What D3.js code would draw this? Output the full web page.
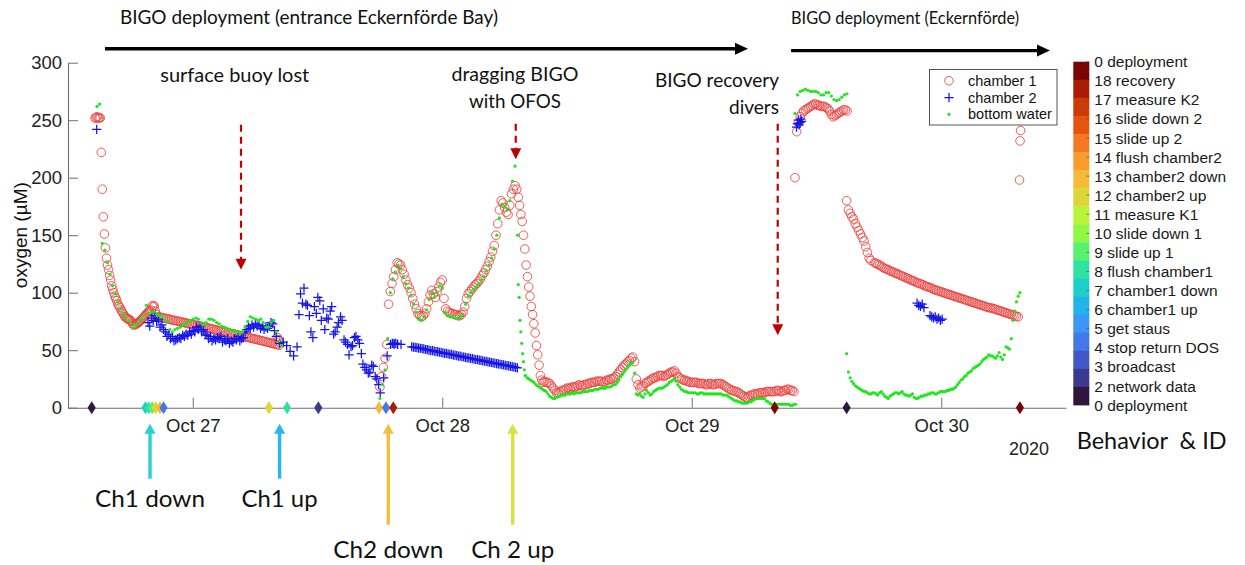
<!DOCTYPE html>
<html>
<head>
<meta charset="utf-8">
<title>BIGO oxygen record, Eckernförde Bay, October 2020</title>
<script src="https://cdn.jsdelivr.net/npm/d3@7"></script>
<style>
  html, body { margin: 0; padding: 0; background: #fff; }
  svg { display: block; }
  .sans { font-family: "Liberation Sans", Arial, Helvetica, sans-serif; }
  .note { font-family: Lato, "Open Sans", sans-serif; }
</style>
</head>
<body>
<svg id="chart" width="1245" height="565"></svg>
<script>
// Time base: every run starts at an hour counted from 2020-10-26 00:00 UTC,
// followed by its sampling step in minutes and the oxygen readings (µM).
const T0 = Date.UTC(2020, 9, 26);
const at = h => new Date(T0 + h * 3600e3);

// ---------- chamber 1 ----------
const ch1Start = [252,252,253,252,252,252,222,190,166,151,139,130,124,120,115,111,106,103,100,97,95,93,90,88.5,87,85,83.5,82,80.5,79,78,77.5,77,76.5,76,75,73,72,72,72.5,73,73.5,74,75,76,77,78,79,80,81,82,83,84,84,85,88,89,88,84,81];
const ch1Drift = [79,78.8,78.5,78,77.8,77.5,77,76.8,76.4,76,75.8,75.3,75,74.8,74.4,74,73.7,73.3,73,72.6,72.3,72,71.6,71.3,71,70.6,70.2,70,69.6,69.2,68.9,68.5,68.2,67.8,67.4,67.1,66.8,66.4,66,65.7,65.3,65,64.6,64.3,64,63.6,63.2,62.9,62.5,62.2,61.8,61.4,61.1,60.7,60.4,60,59.7,59.3,58.9,58.5,58.1,57.8,57.4,57,56.7,56.3,55.9,55.5,55.1,54.7,54.3];
const ch1Tail = [61,59,57];
const ch1Rise = [18,27,35,43,55,90,101,108,114,120,126,125];
const ch1Second = [124,120,116,111,107,104,100,95,90,86,82,80,79,80,82,86,92,98,102,99,96,101,105,109,111,95,86,84,83,82,82,81,81,80,80,81,83,88,95,99,101,103,105,107,108,110,112,115,117,120,123,127,131,136,141,150,160,172,180,178,174,170,168,176,186,190,193,190];
const ch1Drop = [183,176,168,162,150,138,124,114,105,97,88,81,73,65,54,46,37,28,24,22,23];
const ch1Low = [22,22,21,19,17,15,13,13,14,15,15,16,17,17,17,18,18,18,19,20,19,19,20,20,21,21,22,22,22,23,23,23,23,22,23,24,24,25,25,26,27,29,31,33,35,37,38,40,41,43,44,40,25,20,17,18,19,21,22,23,24,25,26,26,27,28,28,28,27,28,29,30,31,31,32,30,27,26,25,24,24,23,23,22,22,22,22,22,21,21,21,21,20,20,21,21,20,20,21,21,21,21,20,19,18,17,16,15,15,14,14,13,12,11,10,9,9,10,11,11,12,12,12,13,13,13,13,14,14,14,14,14,14,15,15,14,14,15,15,16,16,15,15,14];
const ch1Redeploy = [200,240,248,253,256,258,259,260,261,262,263,264,264,263,263,262,262,262,261,260,258,255,253,254,255,256,257,258,259,259,258];
const ch1Decay = [180,172,169,166,164,160,157,154,151,148,145,140,135,130,128];
const ch1Incubation = [126,125.5,124.5,124,123,122,121,120.5,120,119,118.5,118,117,116.5,116,115,114.5,114,113,112.5,112,111,110.5,110,109,108.5,108,107.5,107,106,105.5,105,104.5,104,103,102.5,102,101.5,101,100.5,100,99.5,99,98.5,98,97.5,97,96.5,96,95.5,95,94.5,94,93.5,93,92.5,92,91.5,91,90.5,90,89.5,89,88.5,88,87.5,87,86.8,86.5,86,85.5,85,84.5,84,83.5,83,82.5,82,81.5,81,80.5,80,79.5,79];
const ch1End = [198,232,241];

const chamber1Runs = [
  [14.60, 6, ch1Start], [20.66, 10, ch1Drift], [32.15, 6, ch1Tail],
  [42.00, 10, ch1Rise], [44.00, 10, ch1Second], [55.315, 7.5, ch1Drop],
  [58.00, 10, ch1Low], [81.93, 10, ch1Redeploy],
  [86.90, 10, ch1Decay], [89.57, 10, ch1Incubation], [103.53, 3, ch1End]
];

// ---------- chamber 2 ----------
const ch2Start = [242];
const ch2First = [74,78,80,77,72,66,64,62,59,61,63,64,66,67,70,71,68,63,62,60,61,62,59,60,58,60,62,60,66,71,72,73,72,71,70,71,73,62,56,57,54,49,45,53,99,104,89,66,88,96,76,68,77,88,66,74,76,57,46,54,62,56,38,33,31,36,25,13,26,45,55,56,55,55];
const ch2FirstB = [71,76,75,70,68,62,60,58,60,60,62,63,64,66,68,66,64,60,58,59,60,57,58,56,57,59,58,61,68,69,70,71,69,68,69,74,67];
const ch2Scatter = [81,91,90,80,61,82,93,86,78,84,64,70,79,59,55,53,61,59,47,35,30,37,27,20];
const ch2Plateau = [56,55,56,55];
const ch2Band = [53,52.7,52.5,52.3,51.8,51.7,51.3,51.1,50.6,50.5,50.1,49.7,49.6,49.2,48.8,48.7,48.2,48.1,47.7,47.3,47.2,46.8,46.4,46.3,45.8,45.7,45.3,44.9,44.8,44.3,44.1,43.8,43.4,43.3,42.8,42.7,42.3,41.9,41.8,41.3,41.1,40.8,40.4,40.3,39.8,39.7,39.3,38.9,38.8,38.3,38.1,37.8,37.4,37.2,36.9,36.6,36.3,35.9,35.7,35.3,35.1,34.7];
const ch2Redeploy = [244,247,250,246,248,251,249];
const ch2LateA = [91,89,88,90,87];
const ch2LateB = [80,79,78,79,77,78,76,77];

const chamber2Runs = [
  [14.76, 5, ch2Start], [19.70, 20, ch2First], [19.86, 20, ch2FirstB],
  [34.22, 20, ch2Scatter], [43.20, 10, ch2Plateau], [45.06, 10, ch2Band],
  [82.08, 5, ch2Redeploy], [93.67, 10, ch2LateA], [94.92, 10, ch2LateB]
];

// ---------- bottom water ----------
const bwFirst = [262,264,143,137,126,116,106,99,92,86,82,79,76,73,69,72,74,77,80,89,82,83,84,81,80,80,77,75,68,66,68,69,70,72,73,74,76,77,78,77,74,72,74,77,77,76,74,73,71,70,69,68,67,67,66,65,66,70,75,79,78,77,76,77,74,70,70,74,76,66,58,54];
const bwSecond = [8,20,33,60,100,112,118,124,121,114,108,104,98,90,83,77,76,79,85,94,100,96,100,106,104,83,80,79,79,78,78,79,81,90,97,100,103,105,108,111,114,119,124,130,138,150,165,177,175,172,180,197,210,150];
const bwDrop = [107,96,76,66,56,47,40,33,28];
const bwLow = [28,26,25,24,23,22,20,19,18,17,16,15,14,12,10,9,8,8,9,10,10,11,11,11,12,12,12,13,12,13,13,13,13,14,14,14,14,15,15,15,16,16,16,17,17,17,17,18,18,18,19,20,20,22,24,27,29,31,33,35,37,38,39,30,12,11,12,10,9,12,15,13,11,12,14,15,16,17,17,17,18,19,20,22,23,24,25,23,20,18,16,15,14,14,13,13,13,13,13,12,12,13,13,12,12,12,12,12,12,12,12,12,12,12,11,11,11,10,9,8,7,6,6,5,5,4,4,4,4,5,5,6,7,8,8,8,8,8,8,6,5,4,3,3,3,3,3,3,3,3,3,3,3,2,2,3,3];
const bwRedeploy = [256,272,275,276,277,276,275,275,275,274,272,272,274,274,271,268,267,268,270,272,273];
const bwLast = [47,31,26,23,21,19,18,17,16,15,14,14,13,12,12,13,13,12,11,13,14,12,10,9,8,10,11,12,13,13,12,13,14,12,11,11,10,11,12,9,8,8,9,10,10,11,11,12,12,13,13,12,12,13,14,14,14,14,15,15,16,16,17,18,20,22,24,25,27,28,30,31,32,34,35,36,37,38,40,42,43,44,46,45,45,44,43,45,48,44,42,46,53,52,51,60,76,84,92,97,100];

const bottomWaterRuns = [
  [14.79, 15, bwFirst], [42.00, 15, bwSecond], [55.315, 5, bwDrop],
  [56.00, 10, bwLow], [81.93, 15, bwRedeploy], [86.90, 10, bwLast]
];

// ---------- lander behaviour IDs ----------
const behaviorLabels = ["0 deployment","18 recovery","17 measure K2","16 slide down 2","15 slide up 2",
  "14 flush chamber2","13 chamber2 down","12 chamber2 up","11 measure K1","10 slide down 1","9 slide up 1",
  "8 flush chamber1","7 chamber1 down","6 chamber1 up","5 get staus","4 stop return DOS","3 broadcast",
  "2 network data","0 deployment"];
const behaviorColors = ["#7a0403","#a81c02","#cc3a08","#e55410","#f47a22","#fb9b2e","#f5ba3a","#dcd63a",
  "#b8f43a","#8ef845","#58f070","#2ee3a0","#1ccfc8","#22b4e8","#3a96f7","#4478ea","#4358c8","#3b3a8e","#30163c"];
// [hour, row in behaviorLabels]
const behaviorEvents = [[14.28,18],[19.45,12],[19.77,11],[20.10,10],[20.43,7],[20.85,6],[21.19,15],
  [31.33,7],[33.07,11],[36.08,17],[41.92,6],[42.59,15],[43.29,1],[79.98,0],[86.90,18],[103.57,0]];

const yTicks = [0, 50, 100, 150, 200, 250, 300];

// ---------- field notes ----------
const phases = [
  {from: 15.56, to: 77.41, label: "BIGO deployment (entrance Eckernförde Bay)", labelAt: 17.0, width: 378, size: 18.5},
  {from: 81.55, to: 106.46, label: "BIGO deployment (Eckernförde)", labelAt: 81.55, width: 228, size: 17}
];
const events = [
  {t: 28.64, top: 246, tip: 120, lines: ["surface buoy lost"], textAt: 28.04, anchor: "middle", widths: [149]},
  {t: 55.07, top: 247, tip: 216, lines: ["dragging BIGO", "with OFOS"], textAt: 54.99, anchor: "middle", widths: [127, 92]},
  {t: 80.27, top: 247, tip: 63, lines: ["BIGO recovery", "divers"], textAt: 80.39, anchor: "end", widths: [124, 50]}
];
const steps = [
  {t: 19.89, label: "Ch1 down", color: "#2bcfd6", long: false, width: 110},
  {t: 32.35, label: "Ch1 up", color: "#2ab5ef", long: false, width: 76},
  {t: 42.81, label: "Ch2 down", color: "#f5be3c", long: true, width: 110},
  {t: 54.78, label: "Ch 2 up", color: "#d8e23b", long: true, width: 83}
];

// ---------- scales ----------
const svg = d3.select("#chart");
const x = d3.scaleUtc().domain([at(12), at(108)]).range([68, 1066]);
const y = d3.scaleLinear().domain([0, 300]).range([407.7, 62.7]);

function expand(runs) {
  const pts = [];
  runs.forEach(([start, stepMin, values]) =>
    values.forEach((v, i) => pts.push({t: at(start + i * stepMin / 60), v})));
  return pts;
}
const ch1 = expand(chamber1Runs);
const ch2 = expand(chamber2Runs);
const bw = expand(bottomWaterRuns);

// ---------- axes ----------
const axisColor = "#6f6f6f";
const yAxis = svg.append("g").attr("class", "sans").attr("transform", "translate(68,0)")
  .call(d3.axisLeft(y).tickValues(yTicks).tickSize(-10).tickSizeOuter(0).tickPadding(6));
const xAxis = svg.append("g").attr("class", "sans").attr("transform", `translate(0,${y(0)})`)
  .call(d3.axisBottom(x).ticks(d3.utcDay.every(1)).tickFormat(d3.utcFormat("%b %d"))
    .tickSize(-10).tickSizeOuter(0).tickPadding(11));
[yAxis, xAxis].forEach(g => {
  g.select(".domain").attr("stroke", axisColor).attr("stroke-width", 1.1);
  g.selectAll(".tick line").attr("stroke", axisColor);
  g.selectAll(".tick text").attr("fill", "#222").style("font-size", "18.5px")
    .style("font-family", "'Liberation Sans', Arial, sans-serif");
});

svg.append("text").attr("class", "sans").attr("x", 1049).attr("y", 455)
  .attr("text-anchor", "end").attr("fill", "#222").style("font-size", "18px").text("2020");

svg.append("text").attr("class", "sans")
  .attr("transform", `translate(27,${(y(0) + y(300)) / 2}) rotate(-90)`)
  .attr("text-anchor", "middle").attr("fill", "#111").style("font-size", "19px").text("oxygen (µM)");

// ---------- series ----------
const plot = svg.append("g");
plot.append("g").selectAll("circle").data(ch1).join("circle")
  .attr("cx", d => x(d.t)).attr("cy", d => y(d.v)).attr("r", 4.3)
  .attr("fill", "none").attr("stroke", "#e8413c").attr("stroke-width", 0.85);

const plus = "M-4.6,0H4.6M0,-4.6V4.6";
plot.append("g").selectAll("path").data(ch2).join("path")
  .attr("d", plus).attr("transform", d => `translate(${x(d.t)},${y(d.v)})`)
  .attr("stroke", "#1515e8").attr("stroke-width", 1.25).attr("fill", "none");

plot.append("g").selectAll("circle").data(bw).join("circle")
  .attr("cx", d => x(d.t)).attr("cy", d => y(d.v)).attr("r", 1.6).attr("fill", "#1fe61f");

// behaviour markers on the time axis
svg.append("g").selectAll("path").data(behaviorEvents).join("path")
  .attr("d", "M0,-6.5L4.1,0L0,6.5L-4.1,0Z")
  .attr("transform", d => `translate(${x(at(d[0]))},${y(0)})`)
  .attr("fill", d => behaviorColors[d[1]]);

// ---------- legend ----------
const lg = svg.append("g").attr("class", "sans").attr("transform", "translate(929.5,69.5)");
lg.append("rect").attr("width", 127.5).attr("height", 55.5).attr("fill", "#fff")
  .attr("stroke", "#444").attr("stroke-width", 0.9);
lg.append("circle").attr("cx", 19.5).attr("cy", 11.2).attr("r", 4.3)
  .attr("fill", "none").attr("stroke", "#e8413c").attr("stroke-width", 0.85);
lg.append("path").attr("d", plus).attr("transform", "translate(19.5,28.2)")
  .attr("stroke", "#1515e8").attr("stroke-width", 1.25);
lg.append("circle").attr("cx", 19.5).attr("cy", 44.8).attr("r", 1.6).attr("fill", "#1fe61f");
["chamber 1", "chamber 2", "bottom water"].forEach((s, i) =>
  lg.append("text").attr("x", 38.5).attr("y", 11.2 + i * 16.8).attr("dy", "0.35em")
    .attr("fill", "#111").style("font-size", "14.5px").text(s));

// ---------- behaviour colour bar ----------
const cbY = d3.scaleBand().domain(d3.range(behaviorLabels.length)).range([61.7, 405]).padding(0);
const cbTick = d3.scaleLinear().domain([0, behaviorLabels.length - 1]).range([61.7, 405]);
const cb = svg.append("g").attr("class", "sans");
cb.selectAll("rect").data(behaviorColors).join("rect")
  .attr("x", 1073.3).attr("y", (d, i) => cbY(i)).attr("width", 16)
  .attr("height", cbY.bandwidth() + 0.4).attr("fill", d => d);
cb.selectAll("line").data(behaviorLabels).join("line")
  .attr("x1", 1086.5).attr("x2", 1089.3).attr("y1", (d, i) => cbTick(i)).attr("y2", (d, i) => cbTick(i))
  .attr("stroke", "#555").attr("stroke-width", 0.7);
cb.selectAll("text").data(behaviorLabels).join("text")
  .attr("x", 1094.3).attr("y", (d, i) => cbTick(i)).attr("dy", "0.36em")
  .attr("fill", "#1a1a1a").style("font-size", "15.5px").text(d => d);
svg.append("text").attr("class", "note").attr("x", 1076.7).attr("y", 449)
  .style("white-space", "pre").style("font-size", "24px").attr("fill", "#111")
  .attr("textLength", 150).attr("lengthAdjust", "spacingAndGlyphs").text("Behavior  & ID");

// ---------- field notes ----------
const ann = svg.append("g");
phases.forEach(p => {
  const x0 = x(at(p.from)), x1 = x(at(p.to));
  const yy = p.from < 50 ? 48.8 : 50.6;
  ann.append("line").attr("x1", x0).attr("x2", x1 - 10).attr("y1", yy).attr("y2", yy)
    .attr("stroke", "#000").attr("stroke-width", 3.4);
  ann.append("path").attr("d", `M${x1},${yy}L${x1 - 13},${yy - 6}L${x1 - 13},${yy + 6}Z`).attr("fill", "#000");
  ann.append("text").attr("class", "note").attr("x", x(at(p.labelAt))).attr("y", 24)
    .style("font-size", p.size + "px").attr("fill", "#111")
    .attr("textLength", p.width).attr("lengthAdjust", "spacingAndGlyphs").text(p.label);
});

events.forEach(e => {
  const xx = x(at(e.t)), y0 = y(e.top), y1 = y(e.tip);
  ann.append("line").attr("x1", xx).attr("x2", xx).attr("y1", y0).attr("y2", y1 - 9)
    .attr("stroke", "#c00000").attr("stroke-width", 2.2).attr("stroke-dasharray", "7,5");
  ann.append("path").attr("d", `M${xx},${y1}L${xx - 5.5},${y1 - 11}L${xx + 5.5},${y1 - 11}Z`).attr("fill", "#c00000");
  const tx = x(at(e.textAt));
  const base = e.lines.length === 2 && e.anchor === "middle" ? [81, 108] : (e.anchor === "end" ? [87, 114] : [81.5]);
  e.lines.forEach((s, i) =>
    ann.append("text").attr("class", "note").attr("x", tx).attr("y", base[i])
      .attr("text-anchor", e.anchor).style("font-size", "19px").attr("fill", "#111")
      .attr("textLength", e.widths[i]).attr("lengthAdjust", "spacingAndGlyphs").text(s));
});

steps.forEach(s => {
  const xx = x(at(s.t)), tip = y(0) + 16, tail = y(0) + (s.long ? 117 : 71);
  ann.append("line").attr("x1", xx).attr("x2", xx).attr("y1", tail).attr("y2", tip + 8)
    .attr("stroke", s.color).attr("stroke-width", 3.4);
  ann.append("path").attr("d", `M${xx},${tip}L${xx - 5.6},${tip + 10}L${xx + 5.6},${tip + 10}Z`).attr("fill", s.color);
  ann.append("text").attr("class", "note").attr("x", xx).attr("y", s.long ? 558 : 507)
    .attr("text-anchor", "middle").style("font-size", "24px").attr("fill", "#111")
    .attr("textLength", s.width).attr("lengthAdjust", "spacingAndGlyphs").text(s.label);
});
</script>
</body>
</html>
